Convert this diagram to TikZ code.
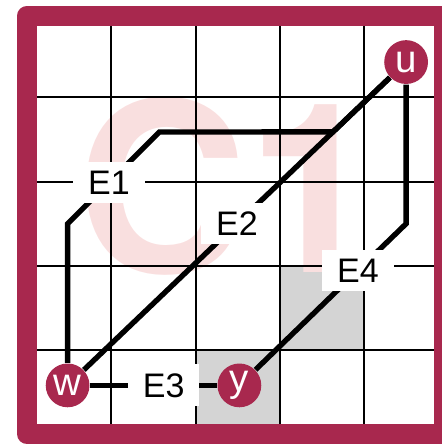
\documentclass[tikz,border=0pt]{standalone}
\usepackage{fontspec}
\setmainfont{Liberation Sans}
\newfontfamily\tagfont{TeX Gyre Heros}
\usepackage{tikz}
\usetikzlibrary{calc,positioning}
\definecolor{framered}{RGB}{168,40,78}
\definecolor{ghostpink}{RGB}{249,223,223}
\definecolor{cellgray}{RGB}{212,212,212}
\tikzset{
  vertex/.style={circle, fill=framered, text=white, minimum size=0.52cm, inner sep=0pt, font=\fontsize{13}{13}\selectfont},
  wire/.style={line width=1.8pt, black},
  elabel/.style={fill=white, inner xsep=5pt, inner ysep=3pt, font=\fontsize{11.5}{12}\selectfont},
  gridline/.style={line width=0.7pt, black}
}

\begin{document}
\begin{tikzpicture}
            % Keep the margins of the picture
            \useasboundingbox (-0.323,-0.116) rectangle (4.92,5.157);
            % Shade the two cells
            \fill[cellgray] (2,0) rectangle (3,1);
            \fill[cellgray] (3,1) rectangle (4,2);
            % Faint tag C1 in the back
            \node[text=ghostpink, font=\tagfont\fontsize{80}{80}\selectfont\bfseries, inner sep=0pt] (tag) at (2.38,2.94) {C1};
            % Draw the grid
            \foreach \i in {1,...,4} {
              \draw[gridline] (\i,0) -- (\i,4.97);
              \draw[gridline] (0,\i) -- (4.95,\i);
            }
            % Draw the frame
            \draw[framered, line width=0.24cm, line join=round] (0,0) rectangle (4.95,4.97);
            % Place the vertices u, w and y
            \node[vertex] (u) at (4.5,4.42) {u};
            \node[vertex] (w) at (0.48,0.58) {w};
            \node[vertex] (y) at (2.52,0.58) {y};
            % Bends of the routes E1 and E4
            \coordinate (e1a) at (0.48,2.5);
            \coordinate (e1b) at (1.57,3.59);
            \coordinate (e1c) at ($(w)!0.784!(u)$);
            \coordinate (e4a) at (4.5,2.5);
            % Route E1
            \draw[wire] (w) -- (e1a) -- node[elabel, pos=0.45] {E1} (e1b) -- (e1c) -- (u);
            % Route E2
            \draw[wire] (w) -- node[elabel] {E2} (u);
            % Route E3
            \draw[wire] (w) -- node[elabel, pos=0.58] {E3} (y);
            % Route E4
            \draw[wire] (u) -- (e4a) -- node[elabel, pos=0.32] {E4} (y);
\end{tikzpicture}
\end{document}
